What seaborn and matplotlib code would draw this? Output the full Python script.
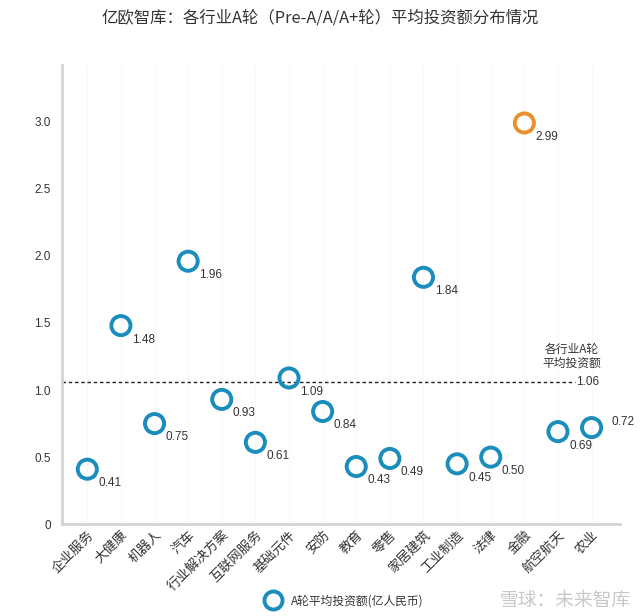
import numpy as np
import pandas as pd
import matplotlib
matplotlib.use('Agg')
import matplotlib.pyplot as plt
from matplotlib.lines import Line2D
import seaborn as sns

# dados
industries = ['企业服务', '大健康', '机器人', '汽车', '行业解决方案', '互联网服务', '基础元件', '安防',
              '教育', '零售', '家居建筑', '工业制造', '法律', '金融', '航空航天', '农业']
amounts = [0.41, 1.48, 0.75, 1.96, 0.93, 0.61, 1.09, 0.84, 0.43, 0.49, 1.84, 0.45, 0.50, 2.99, 0.69, 0.72]
highlight = ['金融']
avg_value = 1.06
y_ticks = [0, 0.5, 1.0, 1.5, 2.0, 2.5, 3.0]
y_tick_labels = ['0', '0.5', '1.0', '1.5', '2.0', '2.5', '3.0']

sns.set_theme(style='white')
plt.rcParams['font.family'] = ['Liberation Sans', 'Noto Sans CJK SC']
cjk = ['Noto Sans CJK SC', 'DejaVu Sans']

blue = '#1a8dbd'
orange = '#e8912c'
txt = '#333333'

df = pd.DataFrame({'pos': np.arange(len(industries)), 'industry': industries, 'amount': amounts})
df['hl'] = df['industry'].isin(highlight)

fig = plt.figure(figsize=(6.4, 6.16), dpi=100)
ax = fig.add_axes([0.097, 0.149, 0.872, 0.745])

# linhas verticais bem claras
for p in df['pos']:
    ax.axvline(p, color='#f8f8f8', lw=0.8, zorder=0)

sns.scatterplot(data=df[~df['hl']], x='pos', y='amount', ax=ax, s=190, marker='o',
                facecolor='none', edgecolor=blue, linewidth=2.8, zorder=3)
sns.scatterplot(data=df[df['hl']], x='pos', y='amount', ax=ax, s=190, marker='o',
                facecolor='none', edgecolor=orange, linewidth=2.8, zorder=3)

# rotulos dos valores
for _, r in df.iterrows():
    if r['industry'] == '农业':
        ax.annotate(f"{r['amount']:.2f}", (r['pos'], r['amount']), xytext=(14, 4),
                    textcoords='offset points', fontsize=8.5, color=txt, ha='left', va='center')
    else:
        ax.annotate(f"{r['amount']:.2f}", (r['pos'], r['amount']), xytext=(8, -10),
                    textcoords='offset points', fontsize=8.5, color=txt, ha='left', va='center')

# linha da media
ax.plot([-0.75, 14.5], [avg_value, avg_value], ls=(0, (2.5, 2)), color='#222222', lw=1, zorder=2)
ax.text(14.55, avg_value, f'{avg_value:.2f}', fontsize=8.5, color=txt, ha='left', va='center')
ax.text(14.4, avg_value + 0.09, '各行业A轮\n平均投资额', fontsize=8.5, color=txt, ha='center',
        va='bottom', linespacing=1.1, family=cjk)

ax.set_xlim(-0.75, 15.85)
ax.set_ylim(0, 3.42)
ax.set_xticks(df['pos'])
ax.set_xticklabels(industries, rotation=45, ha='right', rotation_mode='anchor', fontsize=9.5,
                   color=txt, family=cjk)
ax.set_yticks(y_ticks)
ax.set_yticklabels(y_tick_labels, fontsize=8.5, color=txt)
ax.tick_params(axis='both', length=0, pad=8)
ax.tick_params(axis='x', pad=3)
ax.set_xlabel('')
ax.set_ylabel('')

for s in ['top', 'right']:
    ax.spines[s].set_visible(False)
for s in ['left', 'bottom']:
    ax.spines[s].set_color('#d4d4d4')
    ax.spines[s].set_linewidth(2)

fig.suptitle('亿欧智库：各行业A轮（Pre-A/A/A+轮）平均投资额分布情况', x=0.5, y=0.985,
             fontsize=11.8, color=txt, family=cjk)

# legenda
handle = Line2D([], [], marker='o', ls='', markersize=13, markerfacecolor='none',
                markeredgecolor=blue, markeredgewidth=2.8)
fig.legend([handle], ['A轮平均投资额(亿人民币)'], loc='center', bbox_to_anchor=(0.535, 0.025),
           frameon=False, prop={'family': cjk, 'size': 8.5}, handletextpad=0.6, labelcolor=txt)

fig.text(0.985, 0.025, '雪球：未来智库', fontsize=13.5, color='#c8c8c8', ha='right', va='center',
         family=cjk)

fig.savefig('out.png', dpi=100)
